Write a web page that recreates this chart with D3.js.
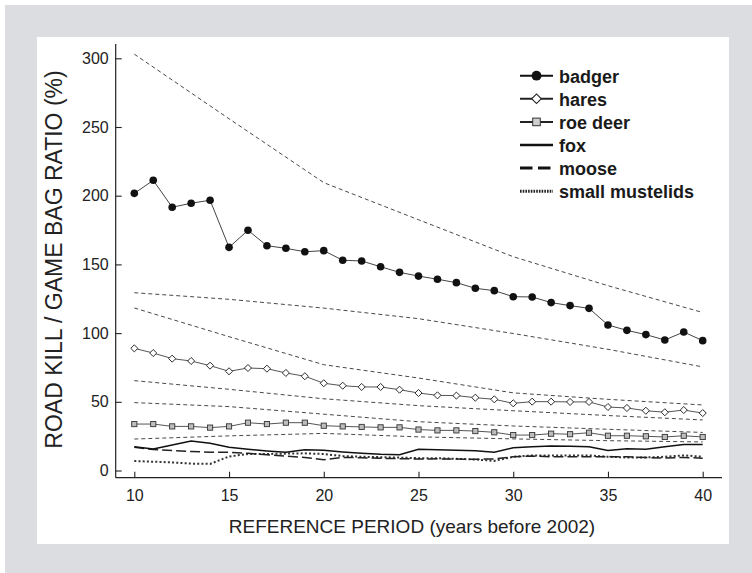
<!DOCTYPE html>
<html>
<head>
<meta charset="utf-8">
<script src="https://cdn.jsdelivr.net/npm/d3@7"></script>
<style>
  body { margin: 0; background: #fff; }
  svg { display: block; font-family: "Liberation Sans", Arial, Helvetica, sans-serif; }
</style>
</head>
<body>
<svg id="chart"></svg>
<script>
// DATA
var years = [10, 11, 12, 13, 14, 15, 16, 17, 18, 19, 20, 21, 22, 23, 24, 25,
             26, 27, 28, 29, 30, 31, 32, 33, 34, 35, 36, 37, 38, 39, 40];

var badger = [201.7, 211.2, 191.6, 194.5, 196.7, 162.4, 174.8, 163.6, 161.7, 159.2, 160.0,
              153.0, 152.5, 148.3, 144.2, 141.5, 139.2, 136.7, 132.6, 130.9, 126.5,
              126.3, 122.2, 120.0, 118.0, 105.9, 102.0, 98.9, 95.0, 100.8, 94.5];
var hares = [88.9, 85.5, 81.4, 79.7, 76.3, 72.2, 74.6, 74.1, 71.0, 68.6, 63.5,
             61.7, 60.8, 60.8, 58.8, 56.4, 54.7, 54.5, 53.0, 51.8, 48.9,
             50.1, 50.1, 49.9, 49.9, 46.2, 45.5, 43.5, 42.4, 44.0, 41.8];
var roeDeer = [33.8, 33.8, 32.1, 32.1, 31.2, 32.1, 34.8, 33.8, 34.8, 34.8, 32.6,
               32.1, 31.7, 31.4, 31.4, 29.8, 29.2, 29.2, 28.7, 27.8, 25.8,
               25.8, 26.8, 26.4, 27.5, 25.3, 25.3, 24.9, 24.4, 25.3, 24.4];
var fox = [17.3, 15.6, 18.6, 21.5, 19.8, 16.9, 15.4, 14.2, 13.2, 15.1, 14.7,
           13.5, 12.5, 11.8, 11.5, 15.4, 15.1, 14.8, 14.4, 13.3, 16.5,
           17.2, 17.8, 17.6, 17.2, 14.6, 15.8, 15.5, 17.2, 19.0, 19.0];
var moose = [17.0, 15.2, 14.5, 13.8, 13.3, 13.2, 12.5, 11.5, 10.5, 9.5, 7.8,
             9.5, 9.3, 8.9, 8.6, 8.4, 8.5, 8.3, 8.2, 8.4, 10.0,
             10.5, 10.0, 10.0, 10.0, 10.0, 10.0, 9.5, 9.0, 9.5, 9.0];
var smallMustelids = [6.9, 6.4, 5.9, 5.0, 4.8, 10.2, 12.0, 12.0, 12.3, 12.5, 12.0,
                      10.5, 10.0, 9.7, 9.4, 9.0, 9.0, 8.5, 8.0, 7.0, 10.0,
                      11.0, 11.0, 11.0, 11.0, 10.0, 9.5, 9.5, 10.0, 11.0, 10.0];

// confidence bands (thin dashed lines), read every 5 years
var ciYears = [10, 15, 20, 25, 30, 35, 40];
var badgerUpper = [303.0, 256.0, 209.5, 182.5, 155.6, 134.5, 115.0];
var badgerLower = [129.4, 124.6, 118.2, 110.5, 99.7, 88.2, 75.4];
var haresUpper = [118.3, 97.4, 77.0, 67.3, 56.5, 51.8, 47.7];
var haresLower = [65.4, 59.1, 52.2, 47.2, 43.5, 40.0, 36.8];
var roeUpper = [49.4, 46.5, 41.0, 35.5, 32.4, 30.0, 27.7];
var roeLower = [22.9, 25.2, 27.0, 24.5, 23.0, 21.7, 20.8];

var yTicks = [0, 50, 100, 150, 200, 250, 300];
var xTicks = [10, 15, 20, 25, 30, 35, 40];
var legendLabels = ['badger', 'hares', 'roe deer', 'fox', 'moose', 'small mustelids'];

//SVG SETUP
var W = 752, H = 573;
var svg = d3.select('#chart')
    .attr('width', W)
    .attr('height', H);

svg.append('rect')
    .attr('x', 5).attr('y', 5)
    .attr('width', W - 5).attr('height', H - 5)
    .attr('fill', '#dcdde0');

svg.append('rect')
    .attr('x', 37).attr('y', 37)
    .attr('width', 692).attr('height', 507)
    .attr('fill', '#ffffff');

//SCALES
var x = d3.scaleLinear().domain([10, 40]).range([134.3, 702.7]);
var y = d3.scaleLinear().domain([0, 300]).range([470.5, 58.3]);

var axisX0 = 115.7, axisY0 = 477.7;

//AXES
var yAxis = svg.append('g')
    .attr('transform', 'translate(' + axisX0 + ',0)')
    .call(d3.axisLeft(y).tickValues(yTicks).tickSize(-6).tickPadding(7));
var xAxis = svg.append('g')
    .attr('transform', 'translate(0,' + axisY0 + ')')
    .call(d3.axisBottom(x).tickValues(xTicks).tickSize(-6).tickPadding(12));

[xAxis, yAxis].forEach(function(g) {
    g.select('.domain').remove();
    g.selectAll('.tick line').attr('stroke', '#222').attr('stroke-width', 1.1);
    g.selectAll('.tick text')
        .attr('fill', '#222')
        .style('font-size', '16px')
        .style('font-family', '"Liberation Sans", Arial, sans-serif');
});

svg.append('line')
    .attr('x1', axisX0).attr('x2', axisX0)
    .attr('y1', 44).attr('y2', axisY0)
    .attr('stroke', '#222').attr('stroke-width', 1.2);
svg.append('line')
    .attr('x1', axisX0).attr('x2', 722)
    .attr('y1', axisY0).attr('y2', axisY0)
    .attr('stroke', '#222').attr('stroke-width', 1.2);

svg.append('text')
    .attr('x', 412).attr('y', 532.5)
    .attr('text-anchor', 'middle')
    .attr('fill', '#222')
    .style('font-size', '19px')
    .text('REFERENCE PERIOD (years before 2002)');

svg.append('text')
    .attr('transform', 'translate(61.5,259.5) rotate(-90)')
    .attr('text-anchor', 'middle')
    .attr('fill', '#222')
    .style('font-size', '23px')
    .text('ROAD KILL / GAME BAG RATIO (%)');

//LINES
var plot = svg.append('g');

function drawLine(xs, ys, stroke, width, dash) {
    var pts = xs.map(function(d, i) { return [d, ys[i]]; });
    var line = d3.line()
        .x(function(d) { return x(d[0]); })
        .y(function(d) { return y(d[1]); });
    plot.append('path')
        .datum(pts)
        .attr('d', line)
        .attr('fill', 'none')
        .attr('stroke', stroke)
        .attr('stroke-width', width)
        .attr('stroke-dasharray', dash || null);
}

// confidence limits
[badgerUpper, badgerLower, haresUpper, haresLower, roeUpper, roeLower].forEach(function(s) {
    drawLine(ciYears, s, '#333', 0.9, '4,3');
});

drawLine(years, smallMustelids, '#333', 2, '2,2.2');
drawLine(years, moose, '#222', 1.5, '10,4');
drawLine(years, fox, '#111', 1.5);
drawLine(years, roeDeer, '#555', 1);
drawLine(years, hares, '#555', 1);
drawLine(years, badger, '#444', 1);

// markers
var sq = d3.symbol().type(d3.symbolSquare);

plot.selectAll('.roe')
    .data(years)
    .enter().append('rect')
    .attr('class', 'roe')
    .attr('x', function(d) { return x(d) - 2.6; })
    .attr('y', function(d, i) { return y(roeDeer[i]) - 2.6; })
    .attr('width', 5.2).attr('height', 5.2)
    .attr('fill', '#bdbdbd')
    .attr('stroke', '#333')
    .attr('stroke-width', 0.9);

plot.selectAll('.hare')
    .data(years)
    .enter().append('path')
    .attr('class', 'hare')
    .attr('d', sq.size(25))
    .attr('transform', function(d, i) {
        return 'translate(' + x(d) + ',' + y(hares[i]) + ') rotate(45)';
    })
    .attr('fill', '#fff')
    .attr('stroke', '#222')
    .attr('stroke-width', 0.9);

plot.selectAll('.badger')
    .data(years)
    .enter().append('circle')
    .attr('class', 'badger')
    .attr('cx', function(d) { return x(d); })
    .attr('cy', function(d, i) { return y(badger[i]); })
    .attr('r', 3.8)
    .attr('fill', '#111');

//LEGEND
var legend = svg.append('g');
var lx1 = 520, lx2 = 553, lmid = (lx1 + lx2) / 2;
var legendStyles = [
    {stroke: '#111', width: 2, dash: null},
    {stroke: '#222', width: 2, dash: null},
    {stroke: '#222', width: 2, dash: null},
    {stroke: '#111', width: 2.4, dash: null},
    {stroke: '#111', width: 3, dash: '12.5,5.5'},
    {stroke: '#222', width: 3, dash: '1.6,1.1'}
];

legendLabels.forEach(function(name, i) {
    var base = 82.7 + i * 23.1;
    var cy = base - 7;
    var st = legendStyles[i];
    legend.append('line')
        .attr('x1', lx1).attr('x2', lx2)
        .attr('y1', cy).attr('y2', cy)
        .attr('stroke', st.stroke)
        .attr('stroke-width', st.width)
        .attr('stroke-dasharray', st.dash);
    if (i === 0) {
        legend.append('circle')
            .attr('cx', lmid).attr('cy', cy).attr('r', 4.9)
            .attr('fill', '#111');
    } else if (i === 1) {
        legend.append('path')
            .attr('d', sq.size(46))
            .attr('transform', 'translate(' + lmid + ',' + cy + ') rotate(45)')
            .attr('fill', '#fff').attr('stroke', '#222').attr('stroke-width', 1.1);
    } else if (i === 2) {
        legend.append('rect')
            .attr('x', lmid - 3.8).attr('y', cy - 3.8)
            .attr('width', 7.6).attr('height', 7.6)
            .attr('fill', '#cfcfcf').attr('stroke', '#333').attr('stroke-width', 1);
    }
    legend.append('text')
        .attr('x', 559).attr('y', base)
        .attr('fill', '#1a1a1a')
        .style('font-size', '18px')
        .style('font-weight', 'bold')
        .text(name);
});
</script>
</body>
</html>
